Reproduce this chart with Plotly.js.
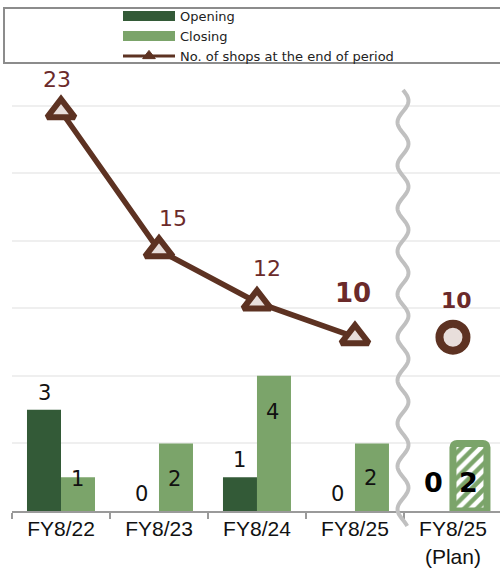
<!DOCTYPE html>
<html>
<head>
<meta charset="utf-8">
<script src="https://cdn.plot.ly/plotly-3.0.1.min.js"></script>
<style>html,body{margin:0;padding:0;background:#fff;}#chart{width:500px;height:570px;}</style>
</head>
<body>
<div id="chart"></div>
<script>
// ---- data ----
const categories = ['FY8/22', 'FY8/23', 'FY8/24', 'FY8/25', 'FY8/25 (Plan)'];
const tickLabels = ['FY8/22', 'FY8/23', 'FY8/24', 'FY8/25', 'FY8/25<br>(Plan)'];
const actualCats = ['FY8/22', 'FY8/23', 'FY8/24', 'FY8/25'];
const opening = [3, 0, 1, 0];
const closing = [1, 2, 4, 2];
const shops = [23, 15, 12, 10];
const planCat = 'FY8/25 (Plan)';
const planOpening = 0;
const planClosing = 2;
const planShops = 10;

// ---- styles ----
const C_OPEN = '#335a37';
const C_CLOSE = '#7ba46a';
const C_LINE = '#5d3222';
const C_LABEL = '#6b2a2a';
const C_MFILL = '#e8dedb';
const C_TEXT = '#111111';
const LBL_FONT = 'DejaVu Sans, Verdana, sans-serif';
const closingShift = [-2, -36, -36, -35];
const lineDx = [-4, 14, 10, -2];
const lineDy = [32, 32, 34, 44];

const traces = [
  {type: 'bar', x: actualCats, y: opening, offsetgroup: 'o', marker: {color: C_OPEN}, showlegend: false, hoverinfo: 'skip'},
  {type: 'bar', x: actualCats, y: closing, offsetgroup: 'c', marker: {color: C_CLOSE}, showlegend: false, hoverinfo: 'skip'},
  {type: 'bar', x: [planCat], y: [planOpening], offsetgroup: 'o', marker: {color: C_OPEN}, showlegend: false, hoverinfo: 'skip'},
  {type: 'bar', x: [planCat], y: [planClosing], offsetgroup: 'c', showlegend: false, hoverinfo: 'skip',
   marker: {color: C_CLOSE, cornerradius: 4, line: {color: C_CLOSE, width: 7},
            pattern: {shape: '/', fgcolor: C_CLOSE, bgcolor: '#ffffff', solidity: 0.5, size: 9, fillmode: 'replace'}}},
  {type: 'scatter', mode: 'lines+markers', x: actualCats, y: shops, yaxis: 'y2', showlegend: false, hoverinfo: 'skip',
   line: {color: C_LINE, width: 5.5},
   marker: {symbol: 'triangle-up', size: 24, color: C_MFILL, line: {color: C_LINE, width: 6}}},
  {type: 'scatter', mode: 'markers', x: [planCat], y: [planShops], yaxis: 'y2', showlegend: false, hoverinfo: 'skip',
   marker: {symbol: 'circle', size: 27, color: C_MFILL, line: {color: C_LINE, width: 8}}},
  // legend entries
  {type: 'scatter', mode: 'lines', x: [null], y: [null], name: 'Opening', line: {color: C_OPEN, width: 10}},
  {type: 'scatter', mode: 'lines', x: [null], y: [null], name: 'Closing', line: {color: C_CLOSE, width: 10}},
  {type: 'scatter', mode: 'lines+markers', x: [null], y: [null], yaxis: 'y2', name: 'No. of shops at the end of period',
   line: {color: C_LINE, width: 3}, marker: {symbol: 'triangle-up', size: 11, color: C_LINE, line: {color: C_LINE, width: 1}}}
];

const annotations = [];
opening.forEach((v, i) => annotations.push({x: actualCats[i], y: v, yref: 'y', xshift: -17, yshift: 17,
  text: String(v), showarrow: false, font: {family: LBL_FONT, size: 21, color: C_TEXT}}));
closing.forEach((v, i) => annotations.push({x: actualCats[i], y: v, yref: 'y', xshift: 16, yshift: closingShift[i],
  text: String(v), showarrow: false, font: {family: LBL_FONT, size: 21, color: C_TEXT}}));
annotations.push({x: planCat, y: planOpening, yref: 'y', xshift: -19, yshift: 29,
  text: '<b>' + planOpening + '</b>', showarrow: false, font: {family: LBL_FONT, size: 27, color: '#000'}});
annotations.push({x: planCat, y: planClosing, yref: 'y', xshift: 16, yshift: -39,
  text: '<b>' + planClosing + '</b>', showarrow: false, font: {family: LBL_FONT, size: 27, color: '#000'}});
shops.forEach((v, i) => {
  const last = i === shops.length - 1;
  annotations.push({x: actualCats[i], y: v, yref: 'y2', xshift: lineDx[i], yshift: lineDy[i],
    text: last ? '<b>' + v + '</b>' : String(v), showarrow: false,
    font: {family: LBL_FONT, size: last ? 26 : 22, color: C_LABEL}});
});
annotations.push({x: planCat, y: planShops, yref: 'y2', xshift: 4, yshift: 37,
  text: '<b>' + planShops + '</b>', showarrow: false, font: {family: LBL_FONT, size: 22, color: C_LABEL}});

// geometry helpers for decorative shapes (paper coords)
const PL = 12, PW = 488, PT = 70, PB = 511, PH = PB - PT;
const px = v => (v - PL) / PW;
const py = v => (PB - v) / PH;
let wave = '';
for (let yy = 90; yy <= 527; yy += 2) {
  const xx = 403 + 5.5 * Math.sin((yy - 90) / 43 * 2 * Math.PI);
  wave += (wave ? ' L' : 'M') + px(xx).toFixed(5) + ',' + py(yy).toFixed(5);
}

const layout = {
  width: 500, height: 570,
  margin: {l: PL, r: 0, t: PT, b: 570 - PB, autoexpand: false},
  paper_bgcolor: '#fff', plot_bgcolor: '#fff',
  barmode: 'group', bargap: 0.306, bargroupgap: 0,
  showlegend: true,
  legend: {xref: 'container', yref: 'container', x: 0.236, y: 0.998, xanchor: 'left', yanchor: 'top',
           font: {family: LBL_FONT, size: 13, color: '#222'}, itemwidth: 52, tracegroupgap: 0,
           bgcolor: 'rgba(0,0,0,0)', borderwidth: 0},
  xaxis: {type: 'category', categoryorder: 'array', categoryarray: categories, range: [-0.5, 4.48],
          tickvals: categories, ticktext: tickLabels, tickson: 'boundaries', ticks: 'outside', ticklen: 6,
          tickwidth: 2, tickcolor: '#9a9a9a', showline: true, linecolor: '#9a9a9a', linewidth: 2,
          showgrid: false, zeroline: false, fixedrange: true, automargin: false, tickangle: 0,
          ticklabelstandoff: -2,
          tickfont: {family: 'Liberation Sans, Arial, sans-serif', size: 21, color: C_TEXT}},
  yaxis: {range: [0, PH / 33.79], dtick: 2, tick0: 0, showgrid: true, gridcolor: '#efefef', gridwidth: 2,
          showticklabels: false, ticks: '', zeroline: false, showline: false, fixedrange: true, automargin: false},
  yaxis2: {overlaying: 'y', range: [0, PH / 17.38], visible: false, showgrid: false, zeroline: false, fixedrange: true},
  annotations: annotations,
  shapes: [
    {type: 'rect', xref: 'paper', yref: 'paper', x0: px(4), x1: px(506), y0: py(63), y1: py(8),
     line: {color: '#8c8c8c', width: 2}, fillcolor: 'rgba(0,0,0,0)', layer: 'above'},
    {type: 'path', xref: 'paper', yref: 'paper', path: wave, line: {color: '#c0c0c0', width: 4}, layer: 'above'}
  ]
};

Plotly.newPlot('chart', traces, layout, {displayModeBar: false, staticPlot: true});
</script>
</body>
</html>
